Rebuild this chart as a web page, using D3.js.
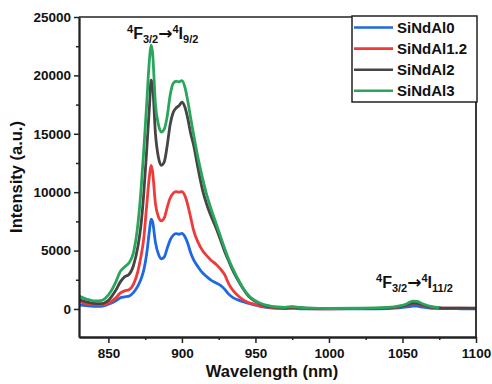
<!DOCTYPE html>
<html>
<head>
<meta charset="utf-8">
<script src="https://cdn.jsdelivr.net/npm/d3@7"></script>
<style>
  body { margin: 0; background: #fff; }
  text { font-family: "Liberation Sans", Arial, sans-serif; font-weight: bold; fill: #111; }
</style>
</head>
<body>
<svg id="chart" width="492" height="384"></svg>
<script>
// emission spectra
const wavelengths = [830, 835, 840, 845, 850, 855, 858, 861, 864, 867, 870, 872, 874, 876, 878, 879, 880, 882, 884, 886, 888, 890, 892, 894, 896, 898, 900, 902, 904, 906, 908, 911, 914, 917, 920, 923, 926, 929, 932, 935, 938, 941, 944, 947, 950, 955, 960, 965, 970, 975, 978, 985, 1000, 1020, 1040, 1048, 1053, 1057, 1060, 1064, 1070, 1075, 1080, 1090, 1100];

const sindal0 = [350, 280, 230, 230, 400, 700, 950, 1030, 1100, 1400, 1950, 2500, 3300, 4700, 6800, 7700, 7500, 5700, 4700, 4300, 4450, 5200, 5900, 6300, 6450, 6400, 6480, 6200, 5600, 4800, 4200, 3600, 3100, 2750, 2450, 2250, 2050, 1700, 1250, 950, 780, 650, 530, 430, 330, 180, 90, 50, 30, 60, 40, 10, 0, 10, 40, 90, 170, 250, 240, 150, 60, 40, 30, 20, 10];
const sindal12 = [650, 450, 380, 350, 500, 950, 1350, 1550, 1650, 2100, 3200, 4400, 6000, 8800, 11500, 12300, 11800, 9000, 7900, 7550, 7800, 8700, 9500, 9900, 10050, 10000, 10050, 9700, 8900, 7800, 6700, 5700, 5000, 4550, 4150, 3850, 3450, 2950, 2100, 1550, 1150, 850, 620, 480, 380, 220, 130, 90, 70, 100, 80, 40, 20, 40, 80, 180, 320, 460, 440, 290, 130, 90, 70, 60, 50];
const sindal2 = [800, 600, 480, 460, 750, 1600, 2300, 2750, 2950, 3700, 5300, 7000, 9800, 13500, 17500, 19600, 19200, 15000, 13000, 12300, 12600, 14000, 15800, 16800, 17200, 17400, 17700, 17300, 16300, 15000, 14000, 12000, 10200, 8900, 7900, 7000, 6000, 4950, 4050, 3200, 2500, 1850, 1300, 900, 650, 350, 200, 130, 100, 150, 120, 60, 30, 50, 100, 200, 350, 500, 480, 320, 150, 100, 80, 70, 60];
const sindal3 = [1100, 850, 700, 720, 1200, 2300, 3200, 3600, 3950, 4800, 7200, 9900, 13500, 17500, 21500, 22600, 22000, 17500, 15800, 15150, 15400, 16500, 18300, 19300, 19500, 19450, 19550, 19000, 17800, 16300, 14900, 12900, 11200, 9700, 8500, 7400, 6300, 5200, 4200, 3350, 2600, 1900, 1350, 950, 700, 400, 250, 170, 140, 200, 160, 80, 40, 60, 130, 260, 450, 680, 650, 420, 200, 120, null, null, null];

const seriesNames = ["SiNdAl0", "SiNdAl1.2", "SiNdAl2", "SiNdAl3"];
const seriesValues = [sindal0, sindal12, sindal2, sindal3];
const colors = ["#1f68e0", "#f03a3a", "#454545", "#2aa55c"];

const xTicks = [850, 900, 950, 1000, 1050, 1100];
const yTicks = [0, 5000, 10000, 15000, 20000, 25000];

const margin = { left: 79, top: 17, right: 16, bottom: 47 };
const W = 492, H = 384;
const width = W - margin.left - margin.right;
const height = H - margin.top - margin.bottom;

const svg = d3.select('#chart');
const g = svg.append('g').attr('transform', `translate(${margin.left},${margin.top})`);

const x = d3.scaleLinear().domain([830, 1100]).range([0, width]);
const y = d3.scaleLinear().domain([-2400, 25000]).range([height, 0]);

svg.append('defs').append('clipPath').attr('id', 'clip')
  .append('rect').attr('width', width).attr('height', height);

const line = d3.line()
  .defined(d => d[1] != null)
  .x(d => x(d[0]))
  .y(d => y(d[1]))
  .curve(d3.curveMonotoneX);

const plot = g.append('g').attr('clip-path', 'url(#clip)');
seriesValues.forEach((vals, i) => {
  plot.append('path')
    .datum(wavelengths.map((w, j) => [w, vals[j]]))
    .attr('fill', 'none')
    .attr('stroke', colors[i])
    .attr('stroke-width', 2.8)
    .attr('stroke-linejoin', 'round')
    .attr('d', line);
});

// axes
const xMinor = d3.range(825, 1101, 25).filter(v => v >= 830 && !xTicks.includes(v));
const yMinor = d3.range(-2500, 25001, 2500).filter(v => v >= -2400 && !yTicks.includes(v));

g.append('g').attr('transform', `translate(0,${height})`)
  .call(d3.axisBottom(x).tickValues(xTicks).tickSize(6).tickPadding(5).tickSizeOuter(0).tickFormat(d3.format('d')));
g.append('g').attr('transform', `translate(0,${height})`)
  .call(d3.axisBottom(x).tickValues(xMinor).tickSize(3).tickFormat('').tickSizeOuter(0));
g.append('g')
  .call(d3.axisLeft(y).tickValues(yTicks).tickSize(5).tickPadding(3).tickFormat(d3.format('d')).tickSizeOuter(0));
g.append('g')
  .call(d3.axisLeft(y).tickValues(yMinor).tickSize(3).tickFormat('').tickSizeOuter(0));

g.selectAll('.domain').attr('stroke', '#222').attr('stroke-width', 1.8);
g.selectAll('.tick line').attr('stroke', '#222').attr('stroke-width', 1.5);
g.selectAll('.tick text').style('font-size', '13.5px').style('font-weight', 'bold')
  .style('font-family', '"Liberation Sans", Arial, sans-serif').attr('fill', '#111');

// frame top and right
g.append('line').attr('x1', 0).attr('x2', width).attr('y1', 0).attr('y2', 0)
  .attr('stroke', '#222').attr('stroke-width', 1.5);
g.append('line').attr('x1', width).attr('x2', width).attr('y1', 0).attr('y2', height)
  .attr('stroke', '#222').attr('stroke-width', 1.8);

// axis titles
svg.append('text').attr('x', 272).attr('y', 377).attr('text-anchor', 'middle')
  .style('font-size', '16.5px').text('Wavelength (nm)');
svg.append('text').attr('transform', `translate(22,${margin.top + height / 2}) rotate(-90)`)
  .attr('text-anchor', 'middle').style('font-size', '16.5px').text('Intensity (a.u.)');

// transition labels
function transition(xp, yp, lower) {
  const t = svg.append('text').attr('x', xp).attr('y', yp).style('font-size', '16px');
  t.append('tspan').attr('dy', -6).style('font-size', '11px').text('4');
  t.append('tspan').attr('dy', 6).text('F');
  t.append('tspan').attr('dy', 4).style('font-size', '11px').text('3/2');
  t.append('tspan').attr('dy', -4).style('font-family', '"DejaVu Sans", sans-serif')
    .style('font-size', '17px').text('\u2192');
  t.append('tspan').attr('dy', -6).style('font-size', '11px').text('4');
  t.append('tspan').attr('dy', 6).text('I');
  t.append('tspan').attr('dy', 4).style('font-size', '11px').text(lower);
}
transition(127, 39, '9/2');
transition(376, 288, '11/2');

// legend
const lg = svg.append('g');
lg.append('rect').attr('x', 352).attr('y', 16).attr('width', 125).attr('height', 86)
  .attr('fill', '#fff').attr('stroke', '#222').attr('stroke-width', 1.5);
seriesNames.forEach((name, i) => {
  const yy = 27.5 + i * 21.1;
  lg.append('line').attr('x1', 354).attr('x2', 393).attr('y1', yy).attr('y2', yy)
    .attr('stroke', colors[i]).attr('stroke-width', 2.6);
  lg.append('text').attr('x', 397).attr('y', yy + 5.5).style('font-size', '15px').text(name);
});
</script>
</body>
</html>
